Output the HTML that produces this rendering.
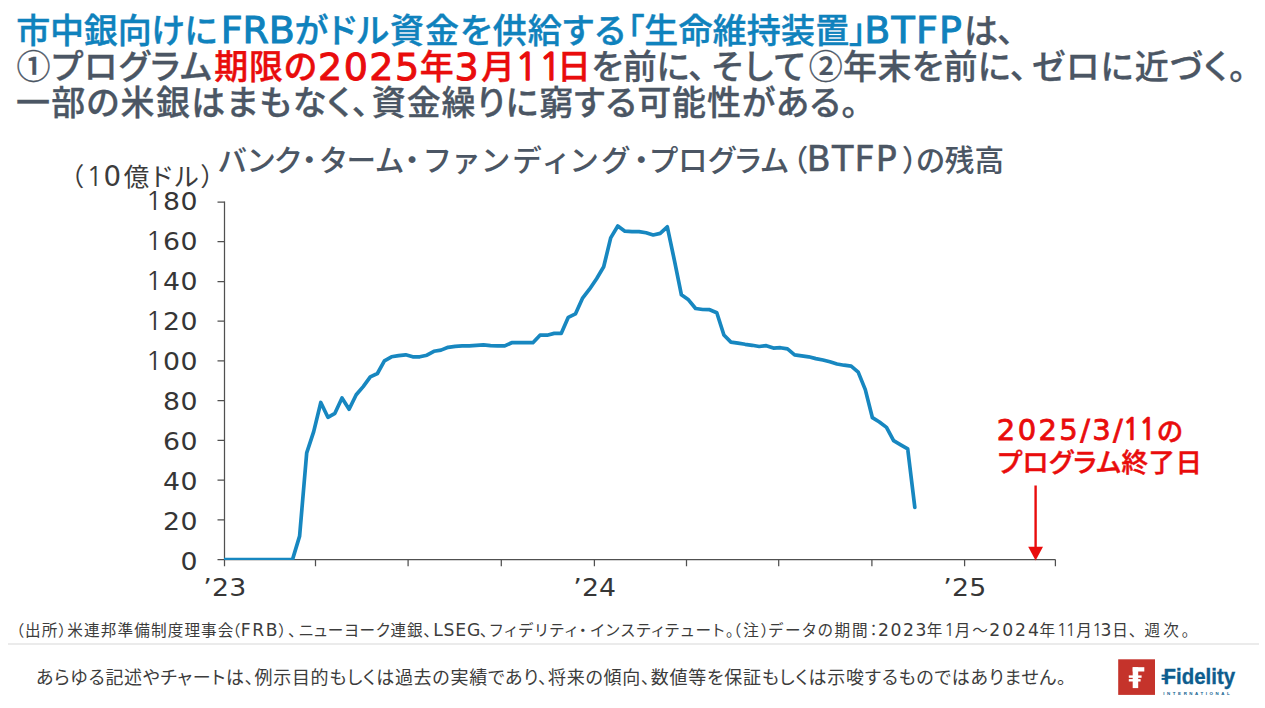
<!DOCTYPE html>
<html lang="ja">
<head>
<meta charset="utf-8">
<title>BTFP</title>
<style>
html,body{margin:0;padding:0;background:#fff;}
body{width:1265px;height:708px;position:relative;overflow:hidden;
  font-family:"Liberation Sans","Noto Sans CJK JP",sans-serif;color:#4b5664;}
.t{position:absolute;white-space:nowrap;line-height:1;font-feature-settings:"palt" 1;font-kerning:normal;}
.l{font-family:"DejaVu Sans","Liberation Sans",sans-serif;font-size:1.085em;}
.o{font-family:"NanumGothic","Liberation Sans",sans-serif;display:inline-block;width:0.636em;text-align:center;letter-spacing:0;}
.ln{position:absolute;left:0;margin:0;padding:0;white-space:nowrap;line-height:1;font-size:20px;font-feature-settings:"palt" 1;font-kerning:normal;}
.s{position:relative;white-space:nowrap;line-height:1;}
#rule{position:absolute;left:8px;top:643px;width:1251px;height:2px;background:#ebebeb;}
svg{position:absolute;left:0;top:0;}
.ax{font-family:"DejaVu Sans","Liberation Sans",sans-serif;font-size:24.3px;fill:#363636;}
.n1{font-family:"NanumGothic","Liberation Sans",sans-serif;font-size:25.5px;}
</style>
</head>
<body>
<svg width="1265" height="708" viewBox="0 0 1265 708">
  <defs><clipPath id="pc"><rect x="224" y="190" width="840" height="370"/></clipPath></defs>
  <g stroke="#505050" stroke-width="1.25" fill="none">
    <path d="M224.5 201.4V566.2"/>
    <path d="M217.5 559.6H1055.4"/>
    <path d="M217.5 202.0H224.5M217.5 241.7H224.5M217.5 281.5H224.5M217.5 321.2H224.5M217.5 360.9H224.5M217.5 400.7H224.5M217.5 440.4H224.5M217.5 480.1H224.5M217.5 519.9H224.5"/>
    <path d="M315.5 559.6V566.2M408.1 559.6V566.2M501.3 559.6V566.2M594.4 559.6V566.2M686.5 559.6V566.2M778.7 559.6V566.2M871.9 559.6V566.2M964.6 559.6V566.2M1055.4 559.6V566.2"/>
  </g>
  <polyline clip-path="url(#pc)" points="224.5,559.6 228.9,559.6 292.5,559.6 299.6,536.1 306.7,452.8 313.7,431.6 320.8,402.5 327.9,417.3 334.9,413.3 342.0,398.0 349.1,409.3 356.2,394.8 363.2,386.6 370.3,376.9 377.4,373.5 384.4,360.8 391.5,356.8 398.6,355.6 405.7,354.8 412.7,356.8 419.8,356.8 426.9,355.2 433.9,351.3 441.0,350.1 448.1,347.3 455.2,346.3 462.2,345.9 469.3,345.9 476.4,345.3 483.4,344.9 490.5,345.7 497.6,345.9 504.7,345.9 511.7,342.7 518.8,342.7 525.9,342.7 532.9,342.7 540.0,335.2 547.1,335.2 554.2,333.4 561.2,333.4 568.3,317.3 575.4,313.9 582.4,298.4 589.5,289.2 596.6,278.7 603.7,266.8 610.7,237.9 617.8,226.0 624.9,231.2 631.9,231.6 639.0,231.6 646.1,232.8 653.2,235.0 660.2,233.4 667.3,226.8 674.4,260.4 681.4,294.8 688.5,299.8 695.6,308.5 702.7,309.5 709.7,309.7 716.8,312.7 723.9,335.0 730.9,342.1 738.0,343.1 745.1,344.3 752.2,345.3 759.2,346.5 766.3,345.7 773.4,348.1 780.4,347.7 787.5,348.9 794.6,354.8 801.7,355.8 808.7,356.8 815.8,358.6 822.9,360.0 829.9,361.8 837.0,364.0 844.1,365.2 851.2,366.2 858.2,372.1 865.3,389.6 872.4,417.7 879.4,422.0 886.5,427.4 893.6,440.7 900.7,444.9 907.7,448.9 914.8,507.3" fill="none" stroke="#1787c0" stroke-width="3.7" stroke-linejoin="round" stroke-linecap="round"/>
<g class="ax" text-anchor="middle" transform="scale(1.1 1)">
  <text y="210.1"><tspan class="n1" x="139.91">1</tspan><tspan x="155.82">8</tspan><tspan x="171.73">0</tspan></text>
  <text y="250.0"><tspan class="n1" x="139.91">1</tspan><tspan x="155.82">6</tspan><tspan x="171.73">0</tspan></text>
  <text y="290.0"><tspan class="n1" x="139.91">1</tspan><tspan x="155.82">4</tspan><tspan x="171.73">0</tspan></text>
  <text y="329.9"><tspan class="n1" x="139.91">1</tspan><tspan x="155.82">2</tspan><tspan x="171.73">0</tspan></text>
  <text y="369.9"><tspan class="n1" x="139.91">1</tspan><tspan x="155.82">0</tspan><tspan x="171.73">0</tspan></text>
  <text y="409.8"><tspan x="155.82">8</tspan><tspan x="171.73">0</tspan></text>
  <text y="449.7"><tspan x="155.82">6</tspan><tspan x="171.73">0</tspan></text>
  <text y="489.7"><tspan x="155.82">4</tspan><tspan x="171.73">0</tspan></text>
  <text y="529.6"><tspan x="155.82">2</tspan><tspan x="171.73">0</tspan></text>
  <text y="569.6"><tspan x="171.73">0</tspan></text>
  <text y="595.6"><tspan x="188.73">’</tspan><tspan x="200.55">2</tspan><tspan x="216.18">3</tspan></text>
  <text y="595.6"><tspan x="524.91">’</tspan><tspan x="536.73">2</tspan><tspan x="552.36">4</tspan></text>
  <text y="595.6"><tspan x="861.45">’</tspan><tspan x="873.27">2</tspan><tspan x="888.91">5</tspan></text>
</g>
  <g>
    <path d="M1035.6 485.5V550" stroke="#e90c0c" stroke-width="2.4" fill="none"/>
    <path d="M1028.2 546.8H1043L1035.6 560.4Z" fill="#e90c0c"/>
  </g>
</svg>
<div class="ln" style="top:-16.7px"><span class="s" style="font-family:'Liberation Sans','Noto Sans CJK JP',sans-serif;font-size:34px;font-weight:500;color:#0f82bd;letter-spacing:-0.180px;-webkit-text-stroke:0.4px #0f82bd;left:16.2px;top:28.0px;">市中銀向けに</span><span class="s" style="font-family:'DejaVu Sans','Liberation Sans','Noto Sans CJK JP',sans-serif;font-size:38px;font-weight:400;color:#0f82bd;letter-spacing:-0.150px;-webkit-text-stroke:1.0px #0f82bd;left:20.0px;top:28.0px;">FRB</span><span class="s" style="font-family:'Liberation Sans','Noto Sans CJK JP',sans-serif;font-size:34px;font-weight:500;color:#0f82bd;letter-spacing:1.100px;-webkit-text-stroke:0.4px #0f82bd;left:19.9px;top:28.0px;">がドル資金を供給する</span><span class="s" style="font-family:'Liberation Sans','Noto Sans CJK JP',sans-serif;font-size:34px;font-weight:500;color:#0f82bd;letter-spacing:0.157px;-webkit-text-stroke:0.4px #0f82bd;left:20.8px;top:28.0px;">「生命維持装置」</span><span class="s" style="font-family:'DejaVu Sans','Liberation Sans','Noto Sans CJK JP',sans-serif;font-size:38px;font-weight:400;color:#0f82bd;letter-spacing:1.167px;-webkit-text-stroke:1.0px #0f82bd;left:18.6px;top:28.0px;">BTFP</span><span class="s" style="font-family:'Liberation Sans','Noto Sans CJK JP',sans-serif;font-size:34px;font-weight:500;color:#4b5664;letter-spacing:-0.600px;-webkit-text-stroke:0.3px #4b5664;left:19.6px;top:28.0px;">は、</span></div>
<div class="ln" style="top:19.1px"><span class="s" style="font-family:'Liberation Sans','Noto Sans CJK JP',sans-serif;font-size:34px;font-weight:500;color:#4b5664;letter-spacing:1.160px;-webkit-text-stroke:0.3px #4b5664;left:16.6px;top:27.0px;">①プログラム</span><span class="s" style="font-family:'Liberation Sans','Noto Sans CJK JP',sans-serif;font-size:34px;font-weight:500;color:#e90c0c;letter-spacing:0.950px;-webkit-text-stroke:0.4px #e90c0c;left:17.7px;top:27.0px;">期限の</span><span class="s" style="font-family:'DejaVu Sans','Liberation Sans','Noto Sans CJK JP',sans-serif;font-size:38px;font-weight:400;color:#e90c0c;letter-spacing:1.467px;-webkit-text-stroke:1.0px #e90c0c;left:17.9px;top:27.5px;">2025</span><span class="s" style="font-family:'Liberation Sans','Noto Sans CJK JP',sans-serif;font-size:34px;font-weight:500;color:#e90c0c;letter-spacing:0.000px;-webkit-text-stroke:0.4px #e90c0c;left:17.2px;top:27.0px;">年</span><span class="s" style="font-family:'DejaVu Sans','Liberation Sans','Noto Sans CJK JP',sans-serif;font-size:38px;font-weight:400;color:#e90c0c;letter-spacing:0.000px;-webkit-text-stroke:1.0px #e90c0c;left:17.8px;top:27.5px;">3</span><span class="s" style="font-family:'Liberation Sans','Noto Sans CJK JP',sans-serif;font-size:34px;font-weight:500;color:#e90c0c;letter-spacing:0.000px;-webkit-text-stroke:0.4px #e90c0c;left:20.1px;top:27.0px;">月</span><span class="s" style="font-family:'DejaVu Sans','Liberation Sans','Noto Sans CJK JP',sans-serif;font-size:38px;font-weight:400;color:#e90c0c;letter-spacing:0.000px;-webkit-text-stroke:1.5px #e90c0c;left:19.5px;top:27.5px;"><span class="o">1</span></span><span class="s" style="font-family:'DejaVu Sans','Liberation Sans','Noto Sans CJK JP',sans-serif;font-size:38px;font-weight:400;color:#e90c0c;letter-spacing:0.000px;-webkit-text-stroke:1.5px #e90c0c;left:19.1px;top:27.5px;"><span class="o">1</span></span><span class="s" style="font-family:'Liberation Sans','Noto Sans CJK JP',sans-serif;font-size:34px;font-weight:500;color:#e90c0c;letter-spacing:0.000px;-webkit-text-stroke:0.4px #e90c0c;left:13.8px;top:27.0px;">日</span><span class="s" style="font-family:'Liberation Sans','Noto Sans CJK JP',sans-serif;font-size:34px;font-weight:500;color:#4b5664;letter-spacing:-0.100px;-webkit-text-stroke:0.3px #4b5664;left:14.3px;top:27.0px;">を前に、</span><span class="s" style="font-family:'Liberation Sans','Noto Sans CJK JP',sans-serif;font-size:34px;font-weight:500;color:#4b5664;letter-spacing:2.000px;-webkit-text-stroke:0.3px #4b5664;left:20.9px;top:27.0px;">そして</span><span class="s" style="font-family:'Liberation Sans','Noto Sans CJK JP',sans-serif;font-size:34px;font-weight:500;color:#4b5664;letter-spacing:0.367px;-webkit-text-stroke:0.3px #4b5664;left:22.1px;top:27.0px;">②年末を前に、</span><span class="s" style="font-family:'Liberation Sans','Noto Sans CJK JP',sans-serif;font-size:34px;font-weight:500;color:#4b5664;letter-spacing:1.350px;-webkit-text-stroke:0.3px #4b5664;left:26.5px;top:27.0px;">ゼロに近づく。</span></div>
<div class="ln" style="top:55.2px"><span class="s" style="font-family:'Liberation Sans','Noto Sans CJK JP',sans-serif;font-size:34px;font-weight:500;color:#4b5664;letter-spacing:1.310px;-webkit-text-stroke:0.3px #4b5664;left:15.9px;top:31.0px;">一部の米銀はまもなく、</span><span class="s" style="font-family:'Liberation Sans','Noto Sans CJK JP',sans-serif;font-size:34px;font-weight:500;color:#4b5664;letter-spacing:0.879px;-webkit-text-stroke:0.3px #4b5664;left:17.4px;top:31.0px;">資金繰りに窮する可能性がある。</span></div>
<div class="ln" style="top:111.0px"><span class="s" style="font-family:'Liberation Sans','Noto Sans CJK JP',sans-serif;font-size:29.6px;font-weight:500;color:#4b5664;letter-spacing:0.150px;left:218.3px;top:31.0px;">バンク</span><span class="s" style="font-family:'Liberation Sans','Noto Sans CJK JP',sans-serif;font-size:29.6px;font-weight:500;color:#4b5664;letter-spacing:0.000px;left:219.1px;top:31.0px;">・</span><span class="s" style="font-family:'Liberation Sans','Noto Sans CJK JP',sans-serif;font-size:29.6px;font-weight:500;color:#4b5664;letter-spacing:0.650px;left:222.7px;top:31.0px;">ターム</span><span class="s" style="font-family:'Liberation Sans','Noto Sans CJK JP',sans-serif;font-size:29.6px;font-weight:500;color:#4b5664;letter-spacing:0.000px;left:223.4px;top:31.0px;">・</span><span class="s" style="font-family:'Liberation Sans','Noto Sans CJK JP',sans-serif;font-size:29.6px;font-weight:500;color:#4b5664;letter-spacing:4.517px;left:228.6px;top:31.0px;">ファンディング</span><span class="s" style="font-family:'Liberation Sans','Noto Sans CJK JP',sans-serif;font-size:29.6px;font-weight:500;color:#4b5664;letter-spacing:0.000px;left:229.5px;top:31.0px;">・</span><span class="s" style="font-family:'Liberation Sans','Noto Sans CJK JP',sans-serif;font-size:29.6px;font-weight:500;color:#4b5664;letter-spacing:0.675px;left:231.4px;top:31.0px;">プログラム</span><span class="s" style="font-family:'Liberation Sans','Noto Sans CJK JP',sans-serif;font-size:29.6px;font-weight:500;color:#4b5664;letter-spacing:0.000px;left:234.7px;top:31.0px;">（</span><span class="s" style="font-family:'DejaVu Sans','Liberation Sans','Noto Sans CJK JP',sans-serif;font-size:35px;font-weight:400;color:#4b5664;letter-spacing:1.133px;-webkit-text-stroke:0.5px #4b5664;left:234.2px;top:31.0px;">BTFP</span><span class="s" style="font-family:'Liberation Sans','Noto Sans CJK JP',sans-serif;font-size:29.6px;font-weight:500;color:#4b5664;letter-spacing:0.000px;left:239.0px;top:31.0px;">）</span><span class="s" style="font-family:'Liberation Sans','Noto Sans CJK JP',sans-serif;font-size:29.6px;font-weight:500;color:#4b5664;letter-spacing:0.150px;left:237.5px;top:31.0px;">の残高</span></div>
<div class="ln" style="top:126.2px"><span class="s" style="font-family:'Liberation Sans','Noto Sans CJK JP',sans-serif;font-size:25.5px;font-weight:400;color:#3c3c3c;letter-spacing:2.600px;left:70.6px;top:37.0px;">（<span class="l"><span class="o">1</span>0</span>億ドル）</span></div>
<div class="ln" style="top:380.1px"><span class="s" style="font-family:'DejaVu Sans','Liberation Sans','Noto Sans CJK JP',sans-serif;font-size:29px;font-weight:400;color:#e90c0c;letter-spacing:2.383px;-webkit-text-stroke:0.8px #e90c0c;left:996.8px;top:36.0px;">2025/3/</span><span class="s" style="font-family:'DejaVu Sans','Liberation Sans','Noto Sans CJK JP',sans-serif;font-size:29px;font-weight:700;color:#e90c0c;letter-spacing:0.000px;-webkit-text-stroke:0.3px #e90c0c;left:993.6px;top:36.0px;"><span class="o">1</span></span><span class="s" style="font-family:'DejaVu Sans','Liberation Sans','Noto Sans CJK JP',sans-serif;font-size:29px;font-weight:700;color:#e90c0c;letter-spacing:0.000px;-webkit-text-stroke:0.3px #e90c0c;left:991.5px;top:36.0px;"><span class="o">1</span></span><span class="s" style="font-family:'Liberation Sans','Noto Sans CJK JP',sans-serif;font-size:26.5px;font-weight:500;color:#e90c0c;letter-spacing:0.000px;-webkit-text-stroke:0.45px #e90c0c;left:991.8px;top:36.5px;">の</span></div>
<div class="ln" style="top:411.6px"><span class="s" style="font-family:'Liberation Sans','Noto Sans CJK JP',sans-serif;font-size:26.5px;font-weight:500;color:#e90c0c;letter-spacing:0.486px;-webkit-text-stroke:0.45px #e90c0c;left:997.8px;top:38.0px;">プログラム終了日</span></div>
<div class="ln" style="top:576.2px"><span class="s" style="font-family:'Liberation Sans','Noto Sans CJK JP',sans-serif;font-size:15.6px;font-weight:400;color:#3c3c3c;letter-spacing:1.123px;left:16.1px;top:43.0px;">（出所）米連邦準備制度理事会</span><span class="s" style="font-family:'Liberation Sans','Noto Sans CJK JP',sans-serif;font-size:15.6px;font-weight:400;color:#3c3c3c;letter-spacing:0.000px;left:13.8px;top:43.0px;">（</span><span class="s" style="font-family:'DejaVu Sans','Liberation Sans','Noto Sans CJK JP',sans-serif;font-size:17.2px;font-weight:400;color:#3c3c3c;letter-spacing:1.700px;left:14.4px;top:43.2px;">FRB</span><span class="s" style="font-family:'Liberation Sans','Noto Sans CJK JP',sans-serif;font-size:15.6px;font-weight:400;color:#3c3c3c;letter-spacing:1.800px;left:13.6px;top:43.0px;">）、</span><span class="s" style="font-family:'Liberation Sans','Noto Sans CJK JP',sans-serif;font-size:15.6px;font-weight:400;color:#3c3c3c;letter-spacing:0.763px;left:14.7px;top:43.0px;">ニューヨーク連銀、</span><span class="s" style="font-family:'DejaVu Sans','Liberation Sans','Noto Sans CJK JP',sans-serif;font-size:17.2px;font-weight:400;color:#3c3c3c;letter-spacing:0.833px;left:16.0px;top:43.2px;">LSEG</span><span class="s" style="font-family:'Liberation Sans','Noto Sans CJK JP',sans-serif;font-size:15.6px;font-weight:400;color:#3c3c3c;letter-spacing:1.957px;left:14.8px;top:43.0px;">、フィデリティ・</span><span class="s" style="font-family:'Liberation Sans','Noto Sans CJK JP',sans-serif;font-size:15.6px;font-weight:400;color:#3c3c3c;letter-spacing:1.600px;left:16.6px;top:43.0px;">インスティテュート。</span><span class="s" style="font-family:'Liberation Sans','Noto Sans CJK JP',sans-serif;font-size:15.6px;font-weight:400;color:#3c3c3c;letter-spacing:2.300px;left:14.5px;top:43.0px;">（注）</span><span class="s" style="font-family:'Liberation Sans','Noto Sans CJK JP',sans-serif;font-size:15.6px;font-weight:400;color:#3c3c3c;letter-spacing:1.867px;left:11.9px;top:43.0px;">データの期間：</span><span class="s" style="font-family:'DejaVu Sans','Liberation Sans','Noto Sans CJK JP',sans-serif;font-size:17.2px;font-weight:400;color:#3c3c3c;letter-spacing:1.600px;left:10.6px;top:43.2px;">2023</span><span class="s" style="font-family:'Liberation Sans','Noto Sans CJK JP',sans-serif;font-size:15.6px;font-weight:400;color:#3c3c3c;letter-spacing:0.000px;left:9.4px;top:43.0px;">年</span><span class="s" style="font-family:'DejaVu Sans','Liberation Sans','Noto Sans CJK JP',sans-serif;font-size:17.2px;font-weight:400;color:#3c3c3c;letter-spacing:0.000px;left:10.8px;top:43.2px;"><span class="o">1</span></span><span class="s" style="font-family:'Liberation Sans','Noto Sans CJK JP',sans-serif;font-size:15.6px;font-weight:400;color:#3c3c3c;letter-spacing:1.900px;left:10.7px;top:43.0px;">月～</span><span class="s" style="font-family:'DejaVu Sans','Liberation Sans','Noto Sans CJK JP',sans-serif;font-size:17.2px;font-weight:400;color:#3c3c3c;letter-spacing:2.000px;left:10.2px;top:43.2px;">2024</span><span class="s" style="font-family:'Liberation Sans','Noto Sans CJK JP',sans-serif;font-size:15.6px;font-weight:400;color:#3c3c3c;letter-spacing:0.000px;left:8.7px;top:43.0px;">年</span><span class="s" style="font-family:'DejaVu Sans','Liberation Sans','Noto Sans CJK JP',sans-serif;font-size:17.2px;font-weight:400;color:#3c3c3c;letter-spacing:0.000px;left:10.1px;top:43.2px;"><span class="o">1</span></span><span class="s" style="font-family:'DejaVu Sans','Liberation Sans','Noto Sans CJK JP',sans-serif;font-size:17.2px;font-weight:400;color:#3c3c3c;letter-spacing:0.000px;left:8.0px;top:43.2px;"><span class="o">1</span></span><span class="s" style="font-family:'Liberation Sans','Noto Sans CJK JP',sans-serif;font-size:15.6px;font-weight:400;color:#3c3c3c;letter-spacing:0.000px;left:8.0px;top:43.0px;">月</span><span class="s" style="font-family:'DejaVu Sans','Liberation Sans','Noto Sans CJK JP',sans-serif;font-size:17.2px;font-weight:400;color:#3c3c3c;letter-spacing:0.000px;left:8.0px;top:43.2px;"><span class="o">1</span></span><span class="s" style="font-family:'DejaVu Sans','Liberation Sans','Noto Sans CJK JP',sans-serif;font-size:17.2px;font-weight:400;color:#3c3c3c;letter-spacing:0.000px;left:5.7px;top:43.2px;">3</span><span class="s" style="font-family:'Liberation Sans','Noto Sans CJK JP',sans-serif;font-size:15.6px;font-weight:400;color:#3c3c3c;letter-spacing:1.200px;left:6.4px;top:43.0px;">日、</span><span class="s" style="font-family:'Liberation Sans','Noto Sans CJK JP',sans-serif;font-size:15.6px;font-weight:400;color:#3c3c3c;letter-spacing:3.100px;left:13.0px;top:43.0px;">週次</span><span class="s" style="font-family:'Liberation Sans','Noto Sans CJK JP',sans-serif;font-size:15.6px;font-weight:400;color:#3c3c3c;letter-spacing:0.000px;left:12.7px;top:43.0px;">。</span></div>
<div class="ln" style="top:623.7px"><span class="s" style="font-family:'Liberation Sans','Noto Sans CJK JP',sans-serif;font-size:18px;font-weight:400;color:#3c3c3c;letter-spacing:0.732px;left:35.9px;top:43.0px;">あらゆる記述やチャートは、例示目的もしくは過去の実績であり、将来の傾向、数値等を保証もしくは示唆するものではありません。</span></div>
<div id="rule"></div>
<svg id="logo" width="130" height="44" viewBox="0 0 130 44" style="left:1114px;top:655px">
  <rect x="4.2" y="4.3" width="36.8" height="35.6" fill="#c5332b"/>
  <g fill="#fff">
    <rect x="18.7" y="12.2" width="5.5" height="20.9"/>
    <rect x="18.7" y="12.2" width="11.6" height="4.3"/>
    <rect x="14.8" y="20.4" width="12.8" height="2.4"/>
    <rect x="14.8" y="24.1" width="11.8" height="2.4"/>
  </g>
  <text x="49.6" y="29.3" font-family="'Liberation Sans',sans-serif" font-weight="700" font-size="22.5" fill="#0e5d8e" stroke="#0e5d8e" stroke-width="0.35" textLength="71.5" lengthAdjust="spacingAndGlyphs">Fidelity</text>
  <g fill="#0e5d8e"><rect x="47.6" y="19.6" width="5" height="2"/><rect x="47.6" y="22.9" width="5" height="2"/></g>
  <text x="49.3" y="40" font-family="'Liberation Sans',sans-serif" font-weight="700" font-size="4.4" fill="#0e5d8e" textLength="66.5" lengthAdjust="spacing">INTERNATIONAL</text>
</svg>
</body>
</html>
